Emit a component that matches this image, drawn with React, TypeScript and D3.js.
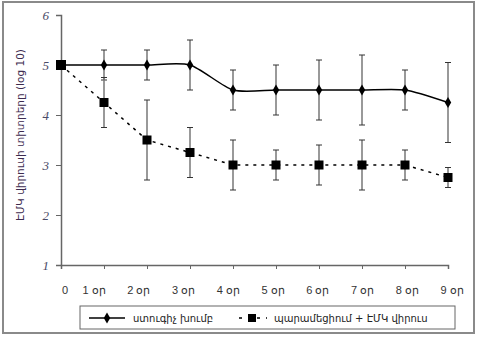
import React, { useEffect, useRef } from "react";
import * as d3 from "d3";

const days = [0, 1, 2, 3, 4, 5, 6, 7, 8, 9];
const dayLabels = ["0", "1 օր", "2 օր", "3 օր", "4 օր", "5 օր", "6 օր", "7 օր", "8 օր", "9 օր"];
const controlValues = [5, 5, 5, 5, 4.5, 4.5, 4.5, 4.5, 4.5, 4.25];
const controlErrors = [0, 0.3, 0.3, 0.5, 0.4, 0.5, 0.6, 0.7, 0.4, 0.8];
const treatedValues = [5, 4.25, 3.5, 3.25, 3, 3, 3, 3, 3, 2.75];
const treatedErrors = [0, 0.5, 0.8, 0.5, 0.5, 0.3, 0.4, 0.5, 0.3, 0.2];
const yTicks = [1, 2, 3, 4, 5, 6];
const legendNames = ["ստուգիչ խումբ", "պարամեցիում + ԷՄԿ վիրուս"];
const yTitle = "ԷՄԿ վիրուսի տիտրերը (log 10)";

const W = 477;
const H = 338;
const armFont = "'DejaVu Sans', sans-serif";

const App = () => {
  const svgRef = useRef<SVGSVGElement>(null);

  useEffect(() => {
    const svg = d3.select(svgRef.current);
    svg.selectAll("*").remove();

    const x = d3.scaleLinear().domain([0, 9]).range([61, 448]);
    const y = d3.scaleLinear().domain([1, 6]).range([265, 15]);

    // chart frame
    svg.append("rect").attr("x", 3).attr("y", 2).attr("width", 471).attr("height", 331)
      .attr("fill", "#fff").attr("stroke", "#8a8a8a").attr("stroke-width", 2);

    // y axis
    const yAxis = svg.append("g").attr("transform", `translate(${x(0)},0)`)
      .call(d3.axisLeft(y).tickValues(yTicks).tickSize(5).tickFormat((d) => String(d)));
    yAxis.select(".domain").attr("stroke", "#666").attr("stroke-width", 1.5);
    yAxis.selectAll(".tick line").attr("stroke", "#666");
    yAxis.selectAll("text")
      .attr("font-family", "'Liberation Serif', serif")
      .attr("font-style", "italic")
      .attr("font-size", 13)
      .attr("fill", "#4a4a66")
      .attr("x", -12);

    // x axis
    const xAxis = svg.append("g").attr("transform", `translate(0,${y(1)})`)
      .call(d3.axisBottom(x).tickValues(days).tickSize(4).tickFormat(() => ""));
    xAxis.select(".domain").attr("stroke", "#666").attr("stroke-width", 1.5);
    xAxis.selectAll(".tick line").attr("stroke", "#666");

    const labelX = d3.scaleLinear().domain([1, 9]).range([x(1) - 10, x(9) + 4]);
    svg.append("g").selectAll("text").data(days).enter().append("text")
      .attr("x", (d) => (d === 0 ? x(0) + 4 : labelX(d)))
      .attr("y", 294)
      .attr("text-anchor", "middle")
      .attr("font-family", "'Liberation Sans', Arial, sans-serif")
      .attr("font-size", 11)
      .attr("fill", "#333")
      .text((d) => dayLabels[d]);

    // y title
    svg.append("text")
      .attr("transform", `translate(24,${135}) rotate(-90)`)
      .attr("text-anchor", "middle")
      .attr("font-family", armFont)
      .attr("font-size", 10.5)
      .attr("fill", "#3d2b4f")
      .text(yTitle);

    const drawErrors = (vals: number[], errs: number[]) => {
      const g = svg.append("g");
      days.forEach((d) => {
        if (!errs[d]) return;
        const cx = x(d);
        g.append("line").attr("x1", cx).attr("x2", cx)
          .attr("y1", y(vals[d] + errs[d])).attr("y2", y(vals[d] - errs[d]))
          .attr("stroke", "#777").attr("stroke-width", 1.5);
        [vals[d] + errs[d], vals[d] - errs[d]].forEach((v) => {
          g.append("line").attr("x1", cx - 3).attr("x2", cx + 3)
            .attr("y1", y(v)).attr("y2", y(v))
            .attr("stroke", "#333").attr("stroke-width", 1);
        });
      });
    };
    drawErrors(controlValues, controlErrors);
    drawErrors(treatedValues, treatedErrors);

    // treated line (dashed)
    const lineT = d3.line<number>().x((d) => x(d)).y((d) => y(treatedValues[d]));
    svg.append("path").attr("d", lineT(days)).attr("fill", "none")
      .attr("stroke", "#000").attr("stroke-width", 1.5).attr("stroke-dasharray", "3,5");

    // control line (smoothed)
    const lineC = d3.line<number>().x((d) => x(d)).y((d) => y(controlValues[d]))
      .curve(d3.curveCardinal.tension(0.3));
    svg.append("path").attr("d", lineC(days)).attr("fill", "none")
      .attr("stroke", "#000").attr("stroke-width", 1.5);

    const diamond = d3.symbol().type(d3.symbolDiamond).size(36);
    svg.append("g").selectAll("path").data(days.slice(1)).enter().append("path")
      .attr("d", diamond)
      .attr("transform", (d) => `translate(${x(d)},${y(controlValues[d])})`)
      .attr("fill", "#000");

    svg.append("g").selectAll("rect").data(days).enter().append("rect")
      .attr("x", (d) => x(d) - (d === 0 ? 5 : 4.5))
      .attr("y", (d) => y(treatedValues[d]) - (d === 0 ? 5 : 4.5))
      .attr("width", (d) => (d === 0 ? 10 : 9))
      .attr("height", (d) => (d === 0 ? 10 : 9))
      .attr("fill", "#000");

    // legend
    const lg = svg.append("g");
    lg.append("rect").attr("x", 80).attr("y", 306).attr("width", 375).attr("height", 23)
      .attr("fill", "#fff").attr("stroke", "#666").attr("stroke-width", 1);
    lg.append("line").attr("x1", 89).attr("x2", 125).attr("y1", 318).attr("y2", 318)
      .attr("stroke", "#000").attr("stroke-width", 1.5);
    lg.append("path").attr("d", diamond).attr("transform", "translate(107,318)").attr("fill", "#000");
    lg.append("text").attr("x", 133).attr("y", 322).attr("font-family", armFont)
      .attr("font-size", 10).attr("fill", "#222").text(legendNames[0]);
    lg.append("line").attr("x1", 239).attr("x2", 267).attr("y1", 318).attr("y2", 318)
      .attr("stroke", "#000").attr("stroke-width", 1.5).attr("stroke-dasharray", "3,6");
    lg.append("rect").attr("x", 248).attr("y", 314).attr("width", 8).attr("height", 8).attr("fill", "#000");
    lg.append("text").attr("x", 274).attr("y", 322).attr("font-family", armFont)
      .attr("font-size", 10).attr("fill", "#222").text(legendNames[1]);
  }, []);

  return (
    <svg ref={svgRef} width={W} height={H}
      style={{ position: "absolute", left: 0, top: 0, background: "#fff" }} />
  );
};

export default App;
